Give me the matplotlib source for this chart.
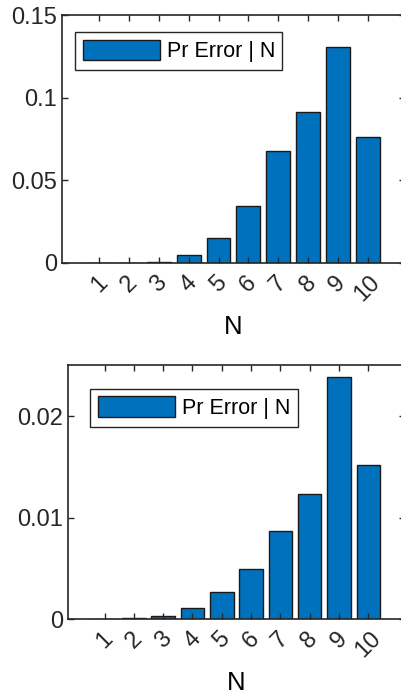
import matplotlib.pyplot as plt
import numpy as np

plt.rcParams['font.family'] = ['Liberation Sans', 'DejaVu Sans']

N = np.arange(1, 11)
tick_labels = [str(n) for n in N]
pr_error_top = [0.0, 0.0, 0.0008, 0.0048, 0.0153, 0.0343, 0.068, 0.0912, 0.1309, 0.0761]
pr_error_bottom = [0.0, 0.00012, 0.00036, 0.00109, 0.00273, 0.00493, 0.00872, 0.0124, 0.02385, 0.01526]
legend_label = 'Pr Error | N'

bar_color = '#0072BD'


def draw_panel(ax, values, ylim, yticks, yticklabels, leg_anchor):
    ax.bar(N, values, width=0.8, color=bar_color, edgecolor='#1a1a1a',
           linewidth=1.0, label=legend_label)
    ax.set_xlim(-0.25, 11.25)
    ax.set_ylim(*ylim)
    ax.set_xticks(N)
    ax.set_xticklabels(tick_labels, rotation=45, ha='center', va='top', fontsize=17)
    ax.set_yticks(yticks)
    ax.set_yticklabels(yticklabels, fontsize=17)
    ax.set_xlabel('N', fontsize=18.5, labelpad=7)
    ax.tick_params(direction='in', length=4, width=1, top=True, right=True,
                   color='#262626', labelcolor='#262626')
    ax.tick_params(axis='x', pad=6)
    for s in ax.spines.values():
        s.set_linewidth(1.2)
        s.set_color('#262626')
    leg = ax.legend(loc='upper left', bbox_to_anchor=leg_anchor, fontsize=15.5,
                    handlelength=3.6, handleheight=1.1, handletextpad=0.3,
                    borderpad=0.35, borderaxespad=0, fancybox=False,
                    framealpha=1)
    leg.get_frame().set_edgecolor('#262626')
    leg.get_frame().set_linewidth(1.0)


fig = plt.figure(figsize=(4.01, 6.95), dpi=100)
ax1 = fig.add_axes([0.1546, 0.6216, 0.855, 0.3568])
ax2 = fig.add_axes([0.1696, 0.1089, 0.840, 0.3663])

draw_panel(ax1, pr_error_top, (0, 0.15), [0, 0.05, 0.1, 0.15],
           ['0', '0.05', '0.1', '0.15'], (0.038, 0.931))
draw_panel(ax2, pr_error_bottom, (0, 0.0251), [0, 0.01, 0.02],
           ['0', '0.01', '0.02'], (0.066, 0.905))

fig.savefig('out.png', dpi=100)
